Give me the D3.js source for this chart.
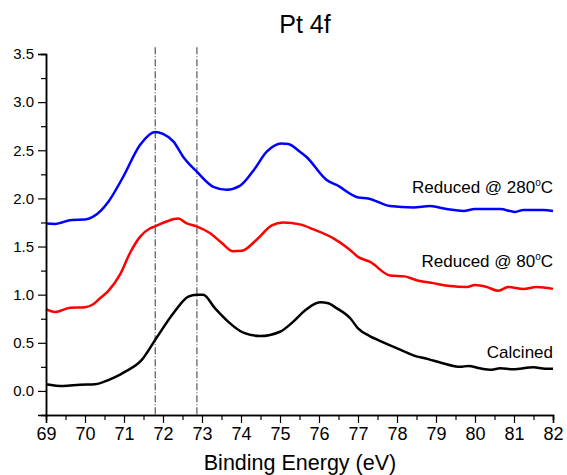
<!DOCTYPE html>
<head>
  <meta charset="utf-8">
  <script src="https://cdn.jsdelivr.net/npm/d3@7"></script>
  <style>
    body { margin:0; background:#fff; }
    svg { display:block; font-family: Arial, "Liberation Sans", sans-serif; }
  </style>
</head>

<body>
  <script>
    // chart values
    var xTicks = [69, 70, 71, 72, 73, 74, 75, 76, 77, 78, 79, 80, 81, 82];
    var yTicks = [0.0, 0.5, 1.0, 1.5, 2.0, 2.5, 3.0, 3.5];
    var refLines = [71.8, 72.87];

    // Reduced @ 280C (blue)
    var e280 = [69, 69.23, 69.66, 70.0, 70.21, 70.6, 70.98, 71.41, 71.8, 72.0, 72.27, 72.52, 72.86, 73.29, 73.63, 73.97, 74.32, 74.66, 75.04, 75.21, 75.51, 75.68, 76.2, 76.45, 77.01, 77.26, 77.82, 78.42, 78.85, 79.27, 79.7, 80.0, 80.64, 81.03, 81.24, 81.75, 82];
    var v280 = [1.74, 1.735, 1.776, 1.78, 1.81, 1.966, 2.225, 2.555, 2.69, 2.67, 2.59, 2.43, 2.28, 2.12, 2.09, 2.13, 2.29, 2.485, 2.57, 2.565, 2.485, 2.43, 2.19, 2.14, 2.01, 2.00, 1.92, 1.905, 1.92, 1.89, 1.87, 1.89, 1.89, 1.86, 1.88, 1.88, 1.87];

    // Reduced @ 80C (red)
    var e80 = [69, 69.23, 69.62, 70.0, 70.21, 70.38, 70.6, 70.9, 71.15, 71.41, 71.67, 71.8, 72.09, 72.39, 72.61, 72.86, 73.2, 73.5, 73.8, 74.02, 74.4, 74.79, 75.08, 75.51, 75.85, 76.37, 76.75, 77.01, 77.31, 77.82, 78.2, 78.5, 78.93, 79.36, 79.79, 80.0, 80.3, 80.6, 80.85, 81.24, 81.58, 82];
    var v80 = [0.85, 0.82, 0.865, 0.87, 0.90, 0.96, 1.04, 1.21, 1.43, 1.60, 1.69, 1.71, 1.76, 1.79, 1.74, 1.71, 1.64, 1.54, 1.45, 1.455, 1.57, 1.72, 1.75, 1.73, 1.68, 1.585, 1.48, 1.39, 1.34, 1.20, 1.19, 1.15, 1.12, 1.09, 1.08, 1.10, 1.08, 1.04, 1.08, 1.06, 1.08, 1.06];

    // Calcined (black)
    var eCal = [69, 69.44, 69.87, 70.26, 70.64, 70.9, 71.03, 71.45, 71.8, 72.27, 72.65, 72.86, 73.03, 73.33, 73.67, 74.06, 74.49, 75.0, 75.34, 75.64, 76.03, 76.24, 76.45, 76.8, 77.0, 77.3, 77.56, 77.9, 78.08, 78.42, 78.8, 79.15, 79.62, 79.83, 80.13, 80.43, 80.64, 80.98, 81.5, 81.8, 82];
    var vCal = [0.07, 0.05, 0.065, 0.07, 0.12, 0.17, 0.20, 0.32, 0.53, 0.81, 0.98, 1.00, 1.00, 0.86, 0.72, 0.605, 0.57, 0.615, 0.72, 0.835, 0.92, 0.91, 0.86, 0.755, 0.65, 0.57, 0.52, 0.46, 0.43, 0.37, 0.33, 0.29, 0.25, 0.26, 0.235, 0.22, 0.235, 0.225, 0.245, 0.23, 0.23];

    var series = [
      { name: "Reduced @ 280", e: e280, v: v280, color: "#0000ff", labelY: 2.056 },
      { name: "Reduced @ 80",  e: e80,  v: v80,  color: "#ff0000", labelY: 1.29 },
      { name: "Calcined",      e: eCal, v: vCal, color: "#000000", labelY: 0.34 }
    ];

    var width = 567, height = 475;
    var mLeft = 46, mRight = 553, mTop = 54, mBottom = 415;

    var svg = d3.select("body").append("svg")
      .attr("width", width)
      .attr("height", height);

    var x = d3.scaleLinear().domain([69, 82]).range([mLeft, mRight]);
    var y = d3.scaleLinear().domain([-0.25, 3.5]).range([mBottom, mTop]);

    // dash-dot reference lines
    svg.selectAll("line.ref")
      .data(refLines).enter()
      .append("line")
      .attr("class", "ref")
      .attr("x1", function(d) { return x(d); })
      .attr("x2", function(d) { return x(d); })
      .attr("y1", y(3.57))
      .attr("y2", y(-0.25))
      .attr("stroke", "#333")
      .attr("stroke-width", 1)
      .attr("stroke-dasharray", "7,2,1,2");

    // curves
    var line = d3.line()
      .x(function(d) { return x(d[0]); })
      .y(function(d) { return y(d[1]); })
      .curve(d3.curveMonotoneX);

    svg.selectAll("path.curve")
      .data(series).enter()
      .append("path")
      .attr("class", "curve")
      .attr("d", function(s) { return line(d3.zip(s.e, s.v)); })
      .attr("fill", "none")
      .attr("stroke", function(s) { return s.color; })
      .attr("stroke-width", 2.5)
      .attr("stroke-linejoin", "round");

    // x axis: minor ticks every 0.5, major every 1
    var xMinor = d3.axisBottom(x).tickValues(d3.range(69.5, 82, 1)).tickSize(5).tickFormat("");
    svg.append("g").attr("transform", "translate(0," + mBottom + ")").call(xMinor);
    var xAxis = d3.axisBottom(x).tickValues(xTicks).tickSize(8).tickPadding(4).tickFormat(d3.format("d"));
    var gx = svg.append("g").attr("transform", "translate(0," + mBottom + ")").call(xAxis);
    gx.attr("font-size", 18).attr("font-family", null);
    gx.selectAll("text").attr("fill", "#000");

    // y axis
    var yMinor = d3.axisLeft(y).tickValues([-0.25, 0.25, 0.75, 1.25, 1.75, 2.25, 2.75, 3.25]).tickSize(5).tickFormat("");
    svg.append("g").attr("transform", "translate(" + mLeft + ",0)").call(yMinor);
    var yAxis = d3.axisLeft(y).tickValues(yTicks).tickSize(8).tickPadding(4).tickFormat(d3.format(".1f"));
    var gy = svg.append("g").attr("transform", "translate(" + mLeft + ",0)").call(yAxis);
    gy.attr("font-size", 15).attr("font-family", null);
    gy.selectAll("text").attr("fill", "#000");

    svg.selectAll(".domain").attr("stroke", "#000").attr("stroke-width", 1.5);
    svg.selectAll(".tick line").attr("stroke", "#000").attr("stroke-width", 1.2);

    // series labels
    var lab = svg.selectAll("text.lab")
      .data(series).enter()
      .append("text")
      .attr("class", "lab")
      .attr("x", mRight)
      .attr("y", function(s) { return y(s.labelY); })
      .attr("text-anchor", "end")
      .attr("font-size", 17)
      .attr("fill", "#000");
    lab.append("tspan").text(function(s) { return s.name; });
    lab.filter(function(s) { return s.name !== "Calcined"; })
      .append("tspan").attr("dy", -7).attr("font-size", 10).text("o");
    lab.filter(function(s) { return s.name !== "Calcined"; })
      .append("tspan").attr("dy", 7).text("C");

    // title and axis label
    svg.append("text")
      .attr("x", 305).attr("y", 33)
      .attr("text-anchor", "middle")
      .attr("font-size", 25)
      .text("Pt 4f");

    svg.append("text")
      .attr("x", 300).attr("y", 470)
      .attr("text-anchor", "middle")
      .attr("font-size", 21.5)
      .text("Binding Energy (eV)");
  </script>
</body>
</html>
